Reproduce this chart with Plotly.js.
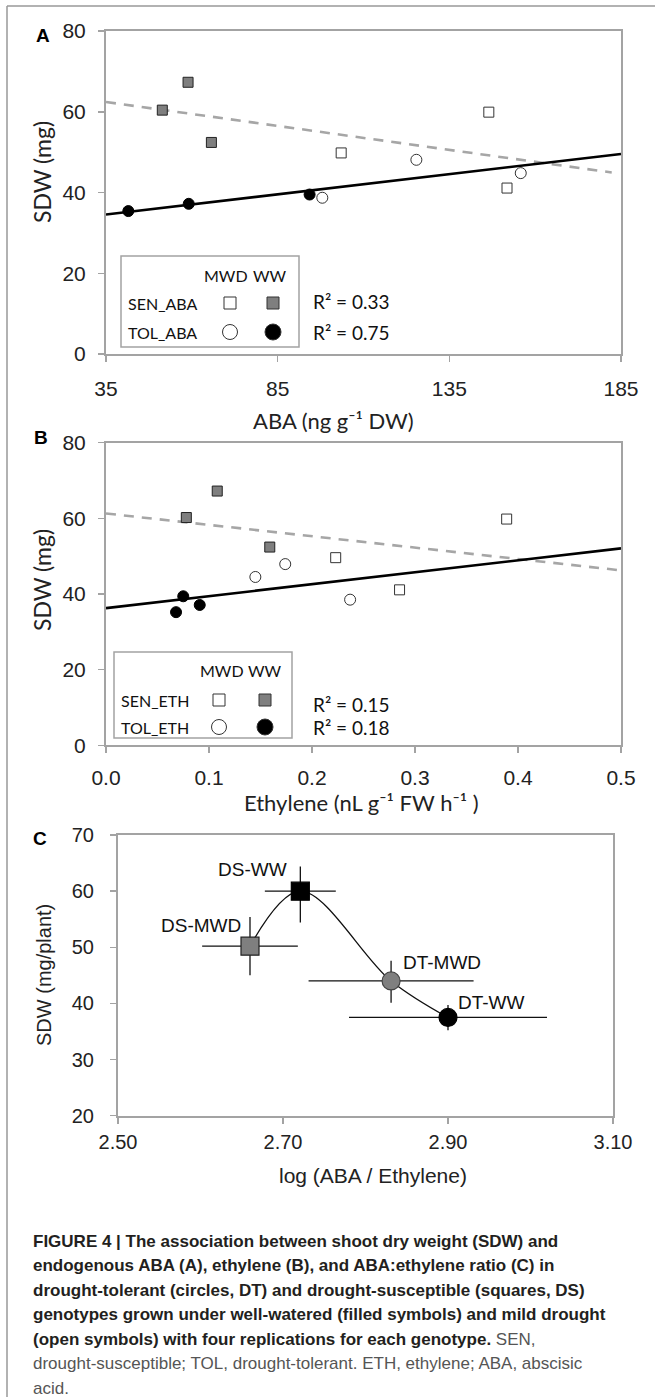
<!DOCTYPE html>
<html><head><meta charset="utf-8">
<script src="https://cdn.plot.ly/plotly-3.0.1.min.js"></script>
<style>html,body{margin:0;padding:0;background:#fff}#chart{width:655px;height:1397px}</style>
</head><body><div id="chart"></div>
<script>
// ---------- Panel A: ABA vs shoot dry weight ----------
const abaSenWW_x  = [51.4, 58.9, 65.7];
const abaSenWW_y  = [60.4, 67.3, 52.4];
const abaSenMWD_x = [103.5, 146.5, 151.8];
const abaSenMWD_y = [49.8, 59.9, 41.1];
const abaTolWW_x  = [41.5, 59.1, 94.3];
const abaTolWW_y  = [35.4, 37.2, 39.5];
const abaTolMWD_x = [98.0, 125.4, 155.8];
const abaTolMWD_y = [38.7, 48.1, 44.8];
const abaTicksX = [35, 85, 135, 185];
const abaLegendRows = ["SEN_ABA", "TOL_ABA"];
const abaR2 = ["R² = 0.33", "R² = 0.75"];

// ---------- Panel B: Ethylene vs shoot dry weight ----------
const ethSenWW_x  = [0.078, 0.108, 0.159];
const ethSenWW_y  = [60.2, 67.2, 52.4];
const ethSenMWD_x = [0.223, 0.285, 0.389];
const ethSenMWD_y = [49.6, 41.1, 59.8];
const ethTolWW_x  = [0.068, 0.075, 0.091];
const ethTolWW_y  = [35.2, 39.4, 37.1];
const ethTolMWD_x = [0.145, 0.174, 0.237];
const ethTolMWD_y = [44.5, 47.9, 38.5];
const ethTicksX = [0.0, 0.1, 0.2, 0.3, 0.4, 0.5];
const ethLegendRows = ["SEN_ETH", "TOL_ETH"];
const ethR2 = ["R² = 0.15", "R² = 0.18"];

const sdwTicks = [0, 20, 40, 60, 80];
const legendCols = ["MWD", "WW"];

// ---------- Panel C: log(ABA/Ethylene) vs SDW ----------
const cLabels = ["DS-MWD", "DS-WW", "DT-MWD", "DT-WW"];
const cX      = [2.660, 2.721, 2.831, 2.900];
const cY      = [50.2, 60.0, 44.0, 37.5];
const cXerr   = [0.058, 0.043, 0.100, 0.120];
const cYerrUp = [5.2, 4.4, 3.6, 2.2];
const cYerrDn = [5.2, 5.6, 3.9, 2.3];
const cTicksX = [2.50, 2.70, 2.90, 3.10];
const cTicksY = [20, 30, 40, 50, 60, 70];

const caption = [
  "<b>FIGURE 4 | The association between shoot dry weight (SDW) and</b>",
  "<b>endogenous ABA (A), ethylene (B), and ABA:ethylene ratio (C) in</b>",
  "<b>drought-tolerant (circles, DT) and drought-susceptible (squares, DS)</b>",
  "<b>genotypes grown under well-watered (filled symbols) and mild drought</b>",
  "<b>(open symbols) with four replications for each genotype.</b><span style=\"color:#555\"> SEN,</span>",
  "<span style=\"color:#555\">drought-susceptible; TOL, drought-tolerant. ETH, ethylene; ABA, abscisic</span>",
  "<span style=\"color:#555\">acid.</span>"
];

// ---------- helpers ----------
const W = 655, H = 1397;
const fx = p => p / W;
const fy = p => 1 - p / H;
function fit(xs, ys) {
  const n = xs.length;
  const mx = xs.reduce((a, b) => a + b, 0) / n, my = ys.reduce((a, b) => a + b, 0) / n;
  let sxy = 0, sxx = 0;
  for (let i = 0; i < n; i++) { sxy += (xs[i] - mx) * (ys[i] - my); sxx += (xs[i] - mx) ** 2; }
  const b = sxy / sxx;
  return x => my + b * (x - mx);
}
const PA = {l: 106, r: 621, t: 31, b: 354};
const PB = {l: 106, r: 621, t: 442.6, b: 745.4};
const PC = {l: 118, r: 613, t: 835, b: 1115.7};

const GRAY = '#7f7f7f', AXC = '#a3a3a3';
const narrow = 'Liberation Sans Narrow, Arial Narrow, Liberation Sans, sans-serif';
const humanist = 'Lato, Open Sans, DejaVu Sans, sans-serif';
const arial = 'Liberation Sans, Arial, sans-serif';

const traces = [];
function scatterPanel(xa, ya, senWWx, senWWy, senMWDx, senMWDy, tolWWx, tolWWy, tolMWDx, tolMWDy, xr, dashEnd) {
  const senX = senWWx.concat(senMWDx), senY = senWWy.concat(senMWDy);
  const tolX = tolWWx.concat(tolMWDx), tolY = tolWWy.concat(tolMWDy);
  const fs = fit(senX, senY), ft = fit(tolX, tolY);
  traces.push({x: [xr[0], dashEnd], y: [fs(xr[0]), fs(dashEnd)], xaxis: xa, yaxis: ya, mode: 'lines',
    line: {color: '#a6a6a6', width: 2.6, dash: '10px,8px'}, hoverinfo: 'skip'});
  traces.push({x: [xr[0], xr[1]], y: [ft(xr[0]), ft(xr[1])], xaxis: xa, yaxis: ya, mode: 'lines',
    line: {color: '#000', width: 2.6}, hoverinfo: 'skip'});
  traces.push({x: senWWx, y: senWWy, xaxis: xa, yaxis: ya, mode: 'markers',
    marker: {symbol: 'square', size: 10, color: GRAY, line: {color: '#222', width: 1}}});
  traces.push({x: senMWDx, y: senMWDy, xaxis: xa, yaxis: ya, mode: 'markers',
    marker: {symbol: 'square', size: 10, color: '#fff', line: {color: '#333', width: 1}}});
  traces.push({x: tolWWx, y: tolWWy, xaxis: xa, yaxis: ya, mode: 'markers',
    marker: {symbol: 'circle', size: 11, color: '#000', line: {color: '#000', width: 1}}});
  traces.push({x: tolMWDx, y: tolMWDy, xaxis: xa, yaxis: ya, mode: 'markers',
    marker: {symbol: 'circle', size: 11, color: '#fff', line: {color: '#333', width: 1}}});
}
scatterPanel('x', 'y', abaSenWW_x, abaSenWW_y, abaSenMWD_x, abaSenMWD_y, abaTolWW_x, abaTolWW_y, abaTolMWD_x, abaTolMWD_y, [35, 185], 182.3);
scatterPanel('x2', 'y2', ethSenWW_x, ethSenWW_y, ethSenMWD_x, ethSenMWD_y, ethTolWW_x, ethTolWW_y, ethTolMWD_x, ethTolMWD_y, [0, 0.5], 0.498);

// Panel C
traces.push({x: cX, y: cY, xaxis: 'x3', yaxis: 'y3', mode: 'lines',
  line: {color: '#111', width: 1.3, shape: 'spline', smoothing: 1}, hoverinfo: 'skip'});
traces.push({x: cX, y: cY, xaxis: 'x3', yaxis: 'y3', mode: 'markers',
  marker: {symbol: ['square', 'square', 'circle', 'circle'], size: 18,
    color: [GRAY, '#000', GRAY, '#000'], line: {color: ['#222', '#000', '#444', '#000'], width: 1.2}},
  error_x: {type: 'data', array: cXerr, color: '#111', thickness: 1.3, width: 0},
  error_y: {type: 'data', symmetric: false, array: cYerrUp, arrayminus: cYerrDn, color: '#111', thickness: 1.3, width: 0}});

const axBase = {showline: true, linecolor: AXC, linewidth: 2, mirror: true, ticks: 'outside', ticklen: 6,
  tickwidth: 1.5, tickcolor: AXC, showgrid: false, zeroline: false, automargin: false, fixedrange: true};
const abFont = {family: narrow, size: 21, color: '#222'};
const cFont = {family: arial, size: 20, color: '#222'};

const layout = {
  width: W, height: H, margin: {l: 0, r: 0, t: 0, b: 0}, showlegend: false,
  paper_bgcolor: '#fff', plot_bgcolor: '#fff',
  xaxis: Object.assign({}, axBase, {domain: [fx(PA.l), fx(PA.r)], anchor: 'y', range: [35, 185], tickvals: abaTicksX,
    tickfont: abFont, ticklabelstandoff: 9}),
  yaxis: Object.assign({}, axBase, {domain: [fy(PA.b), fy(PA.t)], anchor: 'x', range: [0, 80], tickvals: sdwTicks,
    tickfont: abFont, ticklabelstandoff: 8}),
  xaxis2: Object.assign({}, axBase, {domain: [fx(PB.l), fx(PB.r)], anchor: 'y2', range: [0, 0.5], tickvals: ethTicksX,
    tickformat: '.1f', tickfont: abFont, ticklabelstandoff: 6}),
  yaxis2: Object.assign({}, axBase, {domain: [fy(PB.b), fy(PB.t)], anchor: 'x2', range: [0, 80], tickvals: sdwTicks,
    tickfont: abFont, ticklabelstandoff: 8}),
  xaxis3: Object.assign({}, axBase, {domain: [fx(PC.l), fx(PC.r)], anchor: 'y3', range: [2.5, 3.1], tickvals: cTicksX,
    tickformat: '.2f', tickfont: cFont, ticklabelstandoff: 1}),
  yaxis3: Object.assign({}, axBase, {domain: [fy(PC.b), fy(PC.t)], anchor: 'x3', range: [20, 70], tickvals: cTicksY,
    tickfont: cFont, ticklabelstandoff: 12}),
  shapes: [], annotations: []
};

const ann = (text, x, y, font, extra) => layout.annotations.push(Object.assign({text, x, y, xref: 'paper', yref: 'paper',
  showarrow: false, font, xanchor: 'center', yanchor: 'middle'}, extra || {}));

// figure frame
layout.shapes.push({type: 'line', xref: 'paper', yref: 'paper', x0: fx(7), x1: 1, y0: fy(6), y1: fy(6), line: {color: '#999', width: 1.5}});
layout.shapes.push({type: 'line', xref: 'paper', yref: 'paper', x0: fx(7), x1: fx(7), y0: fy(6), y1: 0, line: {color: '#999', width: 1.5}});

// panel letters
const boldLetter = {family: arial, size: 19, color: '#000', weight: 'bold'};
ann('<b>A</b>', fx(43), fy(35), boldLetter);
ann('<b>B</b>', fx(41), fy(437), boldLetter);
ann('<b>C</b>', fx(40), fy(838), boldLetter);

// axis titles
ann('SDW (mg)', fx(42), fy(172), {family: humanist, size: 23, color: '#222'}, {textangle: -90});
ann('ABA (ng g⁻¹ DW)', fx(333), fy(420), {family: humanist, size: 22, color: '#222'});
ann('SDW (mg)', fx(42), fy(580), {family: humanist, size: 23, color: '#222'}, {textangle: -90});
ann('Ethylene (nL g⁻¹ FW h⁻¹ )', fx(361), fy(802), {family: humanist, size: 22, color: '#222'});
ann('SDW (mg/plant)', fx(44), fy(975), {family: arial, size: 20, color: '#222'}, {textangle: -90});
ann('log (ABA / Ethylene)', fx(373), fy(1175), {family: arial, size: 21, color: '#222'});

// custom legends (symbol table) for panels A and B
function legendBox(box, colX, symX, rowY, rows, r2, r2x, r2y) {
  layout.shapes.push({type: 'rect', xref: 'paper', yref: 'paper', x0: fx(box[0]), x1: fx(box[2]), y0: fy(box[3]), y1: fy(box[1]),
    line: {color: '#a3a3a3', width: 1.5}, fillcolor: '#fff', layer: 'above'});
  const lf = {family: humanist, size: 16, color: '#111'};
  ann(legendCols[0], fx(colX[0]), fy(rowY[0]), lf);
  ann(legendCols[1], fx(colX[1]), fy(rowY[0]), lf);
  ann(rows[0], fx(box[0] + 5), fy(rowY[1]), lf, {xanchor: 'left'});
  ann(rows[1], fx(box[0] + 5), fy(rowY[2]), lf, {xanchor: 'left'});
  const sq = (cx, cy, s, fill) => layout.shapes.push({type: 'rect', xref: 'paper', yref: 'paper', layer: 'above',
    x0: fx(cx - s / 2), x1: fx(cx + s / 2), y0: fy(cy + s / 2), y1: fy(cy - s / 2), fillcolor: fill, line: {color: '#333', width: 1}});
  const ci = (cx, cy, d, fill) => layout.shapes.push({type: 'circle', xref: 'paper', yref: 'paper', layer: 'above',
    x0: fx(cx - d / 2), x1: fx(cx + d / 2), y0: fy(cy + d / 2), y1: fy(cy - d / 2), fillcolor: fill, line: {color: '#333', width: 1}});
  sq(symX[0], rowY[1], 12, '#fff');
  sq(symX[1], rowY[1], 12, GRAY);
  ci(symX[0], rowY[2], 15, '#fff');
  ci(symX[1], rowY[2], 16, '#000');
  const rf = {family: humanist, size: 19, color: '#111'};
  ann(r2[0], fx(r2x), fy(r2y[0]), rf, {xanchor: 'left'});
  ann(r2[1], fx(r2x), fy(r2y[1]), rf, {xanchor: 'left'});
}
legendBox([121, 256, 299, 347], [226, 270], [230, 273], [275, 303, 332], abaLegendRows, abaR2, 311, [302, 332]);
legendBox([114, 652, 292, 738], [222, 265], [219, 265], [670, 700, 727], ethLegendRows, ethR2, 311, [704, 727]);

// Panel C point labels
const cLabOff = [[-7, 21, 'right'], [-11, 22, 'right'], [10, 18, 'left'], [8, 15, 'left']];
cLabels.forEach((t, i) => layout.annotations.push({text: t, x: cX[i], y: cY[i], xref: 'x3', yref: 'y3', showarrow: false,
  xanchor: cLabOff[i][2], yanchor: 'middle', xshift: cLabOff[i][0], yshift: cLabOff[i][1],
  font: {family: arial, size: 19, color: '#111'}}));

// caption
caption.forEach((t, i) => ann(t, fx(31), fy(1241 + i * 24.5), {family: arial, size: 17, color: '#231f20'}, {xanchor: 'left'}));

Plotly.newPlot('chart', traces, layout, {displayModeBar: false, staticPlot: true});
</script>
</body></html>
